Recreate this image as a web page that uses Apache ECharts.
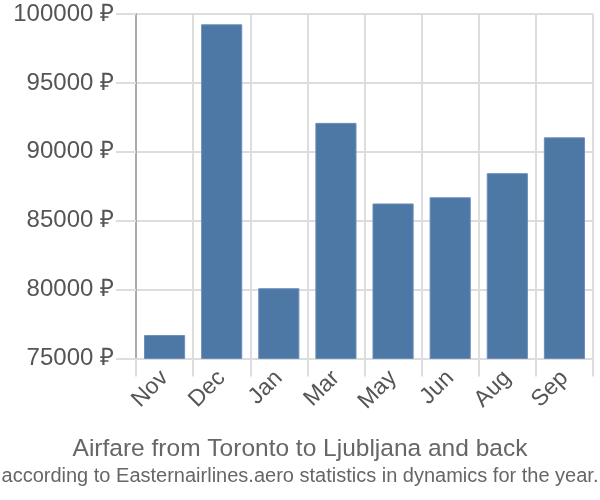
<!DOCTYPE html>
<html><head><meta charset="utf-8">
<script src="https://cdn.jsdelivr.net/npm/echarts@6/dist/echarts.min.js"></script>
<style>html,body{margin:0;padding:0;background:#fff}#c{width:600px;height:500px}</style>
</head><body><div id="c"></div>
<script>
const categories = ["Nov","Dec","Jan","Mar","May","Jun","Aug","Sep"];
const prices = [76700, 99250, 80100, 92100, 86250, 86700, 88450, 91050];
const titleText = "Airfare from Toronto to Ljubljana and back";
const subtitleText = "according to Easternairlines.aero statistics in dynamics for the year.";
const chart = echarts.init(document.getElementById('c'), null, {renderer:'canvas'});
const font = "'Liberation Sans', Arial, sans-serif";
chart.setOption({
  animation:false,
  title:[
    {text:titleText,left:'center',top:432,textStyle:{fontFamily:font,fontSize:24.5,fontWeight:'normal',color:'#666'}},
    {text:subtitleText,left:'center',top:461,textStyle:{fontFamily:font,fontSize:20,fontWeight:'normal',color:'#666'}}
  ],
  grid:{left:136,right:7,top:14,bottom:141.5,containLabel:false},
  xAxis:{type:'category',data:categories,boundaryGap:true,
    axisLine:{show:true,lineStyle:{color:'#ddd',width:2}},
    axisTick:{show:true,length:18,lineStyle:{color:'#ddd',width:2}},
    splitLine:{show:true,lineStyle:{color:'#ddd',width:2}},
    axisLabel:{rotate:45,fontFamily:font,fontSize:23,color:'#555',margin:16}
  },
  yAxis:{type:'value',min:75000,max:100000,interval:5000,
    axisLine:{show:true,lineStyle:{color:'#aaa',width:2}},
    axisTick:{show:true,length:20,lineStyle:{color:'#ddd',width:2}},
    splitLine:{show:true,lineStyle:{color:'#ddd',width:2}},
    axisLabel:{fontFamily:font,fontSize:24,color:'#555',margin:22,formatter:v=>v+' ₽'}
  },
  series:[{type:'bar',data:prices,barCategoryGap:'28%',
    itemStyle:{color:'#4d77a5',borderColor:'#6a8fba',borderWidth:1}}]
});
</script></body></html>
